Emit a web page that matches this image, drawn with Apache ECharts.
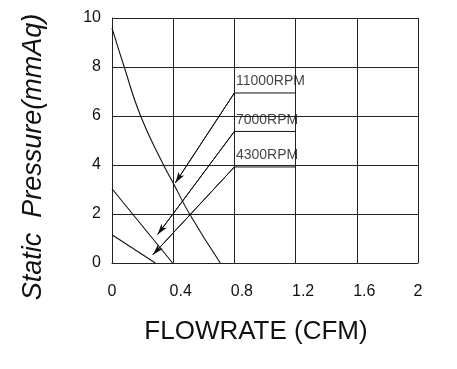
<!DOCTYPE html>
<html>
<head>
<meta charset="utf-8">
<script src="https://cdn.jsdelivr.net/npm/echarts@6/dist/echarts.min.js"></script>
<style>html,body{margin:0;padding:0;background:#fff;}#c{width:457px;height:369px;}</style>
</head>
<body>
<div id="c"></div>
<script>
// Fan P-Q curves
const flow11000 = [0, 0.08, 0.187, 0.337, 0.4, 0.507, 0.708];
const press11000 = [9.59, 8, 6, 4, 3.27, 2, 0];
const flow7000 = [0, 0.396];
const press7000 = [3.03, 0];
const flow4300 = [0, 0.283];
const press4300 = [1.15, 0];

// leader annotations
const rpmLabels = ['11000RPM', '7000RPM', '4300RPM'];
const leaderY = [6.94, 5.37, 3.92];
const leaderStartX = 0.8;
const leaderEndX = 1.2;
const tipX = [0.414, 0.298, 0.268];
const tipY = [3.27, 1.16, 0.34];

// axis ticks
const xTicks = [0, 0.4, 0.8, 1.2, 1.6, 2];
const yTicks = [0, 2, 4, 6, 8, 10];

const FONT = 'Liberation Sans, Arial, sans-serif';
const INK = '#111';

function zip(xs, ys) { return xs.map((x, i) => [x, ys[i]]); }

const curveStyle = { color: INK, width: 1.1 };
const series = [
  { type: 'line', data: zip(flow11000, press11000), smooth: 0.5, showSymbol: false, symbol: 'none', lineStyle: curveStyle, silent: true },
  { type: 'line', data: zip(flow7000, press7000), showSymbol: false, symbol: 'none', lineStyle: curveStyle, silent: true },
  { type: 'line', data: zip(flow4300, press4300), showSymbol: false, symbol: 'none', lineStyle: curveStyle, silent: true }
];

rpmLabels.forEach((lab, i) => {
  series.push({
    type: 'line',
    data: [[leaderEndX, leaderY[i]], [leaderStartX, leaderY[i]], [tipX[i], tipY[i]]],
    showSymbol: false, symbol: 'none',
    lineStyle: { color: INK, width: 1 },
    silent: true,
    markLine: {
      silent: true,
      symbol: ['none', 'arrow'],
      symbolSize: [5, 11],
      label: { show: false },
      lineStyle: { color: INK, width: 1, type: 'solid' },
      emphasis: { disabled: true },
      data: [[{ coord: [leaderStartX, leaderY[i]] }, { coord: [tipX[i], tipY[i]] }]]
    }
  });
});

series.push({
  type: 'scatter',
  data: rpmLabels.map((lab, i) => [leaderStartX, leaderY[i], lab]),
  symbolSize: 1,
  itemStyle: { color: 'rgba(0,0,0,0)' },
  silent: true,
  label: {
    show: true,
    formatter: p => p.value[2],
    position: [2, -18],
    color: INK,
    fontSize: 14,
    fontFamily: FONT
  }
});

const chart = echarts.init(document.getElementById('c'), null, { renderer: 'canvas' });
chart.setOption({
  animation: false,
  backgroundColor: '#fff',
  grid: { left: 112, right: 39, top: 18, bottom: 106, containLabel: false },
  xAxis: {
    type: 'value', min: xTicks[0], max: xTicks[xTicks.length - 1], interval: 0.4,
    axisLine: { show: true, lineStyle: { color: '#222', width: 1 } },
    axisTick: { show: false },
    splitLine: { show: true, lineStyle: { color: '#222', width: 1 } },
    axisLabel: {
      margin: 21, color: INK, fontSize: 16, fontFamily: FONT,
      formatter: v => (Number.isInteger(v) ? '{i|' + v + '}' : '{d|' + v + '}'),
      rich: {
        i: { fontSize: 16, fontFamily: FONT, color: INK },
        d: { fontSize: 16, fontFamily: FONT, color: INK, padding: [0, 0, 0, 15] }
      }
    },
    name: 'FLOWRATE (CFM)', nameLocation: 'middle', nameGap: 56,
    nameTextStyle: { fontSize: 26, color: INK, fontFamily: FONT, padding: [0, 18, 0, 0] }
  },
  yAxis: {
    type: 'value', min: yTicks[0], max: yTicks[yTicks.length - 1], interval: 2,
    axisLine: { show: true, lineStyle: { color: '#222', width: 1 } },
    axisTick: { show: false },
    splitLine: { show: true, lineStyle: { color: '#222', width: 1 } },
    axisLabel: { margin: 11, color: INK, fontSize: 16, fontFamily: FONT },
    name: 'Static  Pressure(mmAq)', nameLocation: 'middle', nameGap: 65,
    nameTextStyle: { fontSize: 27, fontStyle: 'italic', color: INK, fontFamily: FONT, padding: [0, 33, 0, 0] }
  },
  series: series
});
</script>
</body>
</html>
